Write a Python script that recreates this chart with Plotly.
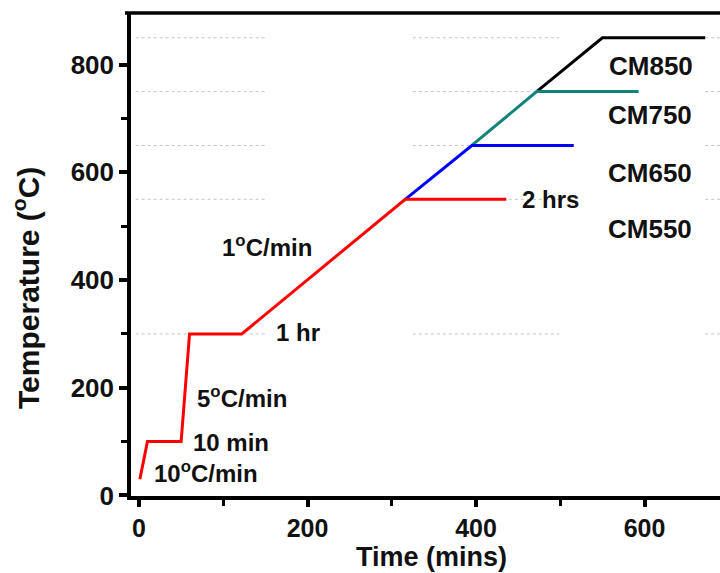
import plotly.graph_objects as go

# ---- data ----
red_t = [1, 10, 50, 60, 122, 316, 436]
red_T = [30, 100, 100, 300, 300, 550, 550]
blue_t = [316, 395, 516]
blue_T = [550, 650, 650]
teal_t = [395, 472, 593]
teal_T = [650, 750, 750]
black_t = [472, 550, 672]
black_T = [750, 850, 850]

guide_levels = [300, 550, 650, 750, 850]
guide_spans = [(-4, 152), (325, 499), (672, 700)]

label_text = ["CM850", "CM750", "CM650", "CM550", "2 hrs",
              "1<sup>o</sup>C/min", "1 hr", "5<sup>o</sup>C/min", "10 min", "10<sup>o</sup>C/min"]
label_x = [608, 607, 607, 607, 488, 152, 189, 122, 109, 80]
label_y = [797, 706, 598, 494, 550, 464, 303, 182, 98, 43]
label_size = [26, 26, 26, 26, 24, 24, 24, 24, 24, 24]

FONT = "Liberation Sans, Arial, sans-serif"

fig = go.Figure()

# dotted guide lines
for lvl in guide_levels:
    for a, b in guide_spans:
        fig.add_trace(go.Scatter(x=[a, b], y=[lvl, lvl], mode="lines",
                                 line=dict(color="#c4c4c4", width=1, dash="dot"),
                                 hoverinfo="skip", showlegend=False))

for t, T, c in [(black_t, black_T, "#000000"), (teal_t, teal_T, "#0f8478"),
                (blue_t, blue_T, "#0000ff"), (red_t, red_T, "#ff0000")]:
    fig.add_trace(go.Scatter(x=t, y=T, mode="lines", line=dict(color=c, width=3),
                             showlegend=False))

for txt, x, y, s in zip(label_text, label_x, label_y, label_size):
    fig.add_annotation(x=x, y=y, text="<b>" + txt + "</b>", showarrow=False,
                       font=dict(family=FONT, size=s, color="#111"),
                       xanchor="center", yanchor="middle")

# axis titles as annotations
fig.add_annotation(xref="paper", yref="paper", x=-(131 - 26) / 589, y=(496 - 288) / 483,
                   text="<b>Temperature (<sup>o</sup>C)</b>", textangle=-90, showarrow=False,
                   font=dict(family=FONT, size=30, color="#111"),
                   xanchor="center", yanchor="middle")
fig.add_annotation(xref="paper", yref="paper", x=(431 - 131) / 589, y=(496 - 557) / 483,
                   text="<b>Time (mins)</b>", showarrow=False, borderpad=0,
                   font=dict(family=FONT, size=27, color="#111"),
                   xanchor="center", yanchor="middle")

# top border line
fig.add_shape(type="line", xref="paper", yref="paper", x0=-6 / 589, x1=1, y0=1, y1=1,
              line=dict(color="#000", width=3.5))

axis_common = dict(showgrid=False, zeroline=False, showline=True, linecolor="#000",
                   linewidth=3.5, ticks="outside", tickwidth=3.5, tickcolor="#000")

fig.update_layout(
    width=720, height=573,
    margin=dict(l=131, r=0, t=13, b=77),
    plot_bgcolor="white", paper_bgcolor="white",
    xaxis=dict(range=[-9.5, 689.6], tickvals=[0, 200, 400, 600],
               ticktext=["<b>0</b>", "<b>200</b>", "<b>400</b>", "<b>600</b>"],
               ticklen=7, tickfont=dict(family=FONT, size=25, color="#111"),
               minor=dict(tickvals=[100, 300, 500], ticks="outside",
                          ticklen=6, tickwidth=3, tickcolor="#000"),
               **axis_common),
    yaxis=dict(range=[-1, 896], tickvals=[0, 200, 400, 600, 800],
               ticktext=["<b>0</b>", "<b>200</b>", "<b>400</b>", "<b>600</b>", "<b>800</b>"],
               ticklen=8, tickfont=dict(family=FONT, size=26, color="#111"),
               minor=dict(tickvals=[100, 300, 500, 700], ticks="outside",
                          ticklen=6, tickwidth=3, tickcolor="#000"),
               **axis_common),
)

fig.write_html("out.html")
